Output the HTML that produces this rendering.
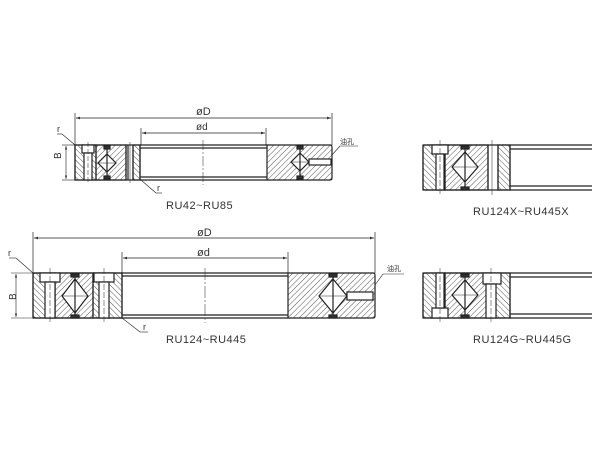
<!DOCTYPE html>
<html><head><meta charset="utf-8"><style>
html,body{margin:0;padding:0;background:#fff;}
svg{display:block;}
text{font-family:"Liberation Sans","Noto Sans CJK SC",sans-serif;fill:#333;}
</style></head><body>
<svg width="600" height="450" viewBox="0 0 600 450" xmlns="http://www.w3.org/2000/svg">
<defs>
<pattern id="h1" width="4" height="4" patternUnits="userSpaceOnUse" patternTransform="rotate(45)">
<line x1="0" y1="0" x2="0" y2="4" stroke="#444" stroke-width="0.9"/></pattern>
<pattern id="h2" width="4" height="4" patternUnits="userSpaceOnUse" patternTransform="rotate(-45)">
<line x1="0" y1="0" x2="0" y2="4" stroke="#444" stroke-width="0.9"/></pattern>
<marker id="ar" markerWidth="6" markerHeight="4" refX="6" refY="2" orient="auto"><path d="M0,0 L6,2 L0,4 z" fill="#333"/></marker>
<marker id="al" markerWidth="6" markerHeight="4" refX="0" refY="2" orient="auto"><path d="M6,0 L0,2 L6,4 z" fill="#333"/></marker>
</defs>
<g stroke="#222" stroke-width="1.2" fill="none">

<!-- ===== TOP: RU42~RU85 ===== -->
<line x1="75" y1="113" x2="75" y2="145" stroke-width="0.7"/>
<line x1="332" y1="113" x2="332" y2="145" stroke-width="0.7"/>
<line x1="76" y1="118" x2="331" y2="118" stroke-width="0.7" marker-start="url(#al)" marker-end="url(#ar)"/>
<line x1="141" y1="128" x2="141" y2="145" stroke-width="0.7"/>
<line x1="266" y1="128" x2="266" y2="145" stroke-width="0.7"/>
<line x1="142" y1="133" x2="265" y2="133" stroke-width="0.7" marker-start="url(#al)" marker-end="url(#ar)"/>
<rect x="75" y="145" width="21" height="35" fill="url(#h2)"/>
<rect x="96" y="145" width="30" height="35" fill="url(#h1)"/>
<rect x="133" y="145" width="7" height="35" fill="url(#h2)"/>
<rect x="75" y="145" width="65" height="35"/>
<rect x="82" y="145" width="12" height="8" fill="#fff"/>
<rect x="84" y="153" width="8" height="27" fill="#fff"/>
<line x1="88" y1="142" x2="88" y2="183" stroke-width="0.5" stroke-dasharray="5,2"/>
<line x1="126" y1="145" x2="126" y2="180"/><line x1="128" y1="145" x2="128" y2="180"/>
<line x1="130" y1="142" x2="130" y2="183" stroke-width="0.5"/>
<line x1="133" y1="145" x2="133" y2="180"/>
<path d="M107,154 L116,163 L107,172 L98,163 Z" fill="#fff"/>
<line x1="107" y1="148" x2="107" y2="178"/><line x1="98" y1="163" x2="116" y2="163" stroke-width="0.5"/>
<rect x="104" y="146" width="6" height="3" fill="#333"/><rect x="104" y="176" width="6" height="3" fill="#333"/>
<line x1="140" y1="145" x2="267" y2="145"/><line x1="140" y1="148" x2="267" y2="148"/>
<line x1="140" y1="180" x2="267" y2="180"/><line x1="140" y1="177" x2="267" y2="177"/>
<line x1="203" y1="140" x2="203" y2="185" stroke-width="0.5" stroke-dasharray="10,2,2,2"/>
<path d="M267,145 H330 Q332,145 332,147 V178 Q332,180 330,180 H267 Z" fill="url(#h1)"/>
<path d="M300,153 L309,162 L300,171 L291,162 Z" fill="#fff"/>
<line x1="300" y1="148" x2="300" y2="178"/><line x1="291" y1="162" x2="309" y2="162" stroke-width="0.5"/>
<rect x="297" y="146" width="6" height="3" fill="#333"/><rect x="297" y="176" width="6" height="3" fill="#333"/>
<rect x="309" y="159" width="22" height="6" fill="#fff"/>
<line x1="332" y1="155" x2="340" y2="146" stroke-width="0.6"/><line x1="340" y1="146" x2="358" y2="146" stroke-width="0.6"/>
<line x1="62" y1="145" x2="75" y2="145" stroke-width="0.6"/><line x1="62" y1="180" x2="75" y2="180" stroke-width="0.6"/>
<line x1="66" y1="146" x2="66" y2="179" stroke-width="0.6" marker-start="url(#al)" marker-end="url(#ar)"/>
<line x1="62" y1="134" x2="75" y2="145" stroke-width="0.6"/><line x1="57" y1="134" x2="62" y2="134" stroke-width="0.6"/>
<line x1="141" y1="180" x2="156" y2="193" stroke-width="0.6"/><line x1="156" y1="193" x2="162" y2="193" stroke-width="0.6"/>

<!-- ===== BOTTOM: RU124~RU445 ===== -->
<line x1="33" y1="232" x2="33" y2="273" stroke-width="0.7"/>
<line x1="375" y1="232" x2="375" y2="273" stroke-width="0.7"/>
<line x1="34" y1="238" x2="374" y2="238" stroke-width="0.7" marker-start="url(#al)" marker-end="url(#ar)"/>
<line x1="122" y1="252" x2="122" y2="273" stroke-width="0.7"/>
<line x1="288" y1="252" x2="288" y2="273" stroke-width="0.7"/>
<line x1="123" y1="258" x2="287" y2="258" stroke-width="0.7" marker-start="url(#al)" marker-end="url(#ar)"/>
<rect x="33" y="273" width="22" height="45" fill="url(#h2)"/>
<rect x="55" y="273" width="38" height="45" fill="url(#h1)"/>
<rect x="93" y="273" width="29" height="45" fill="url(#h2)"/>
<path d="M35,273 H122 V318 H35 Q33,318 33,316 V275 Q33,273 35,273 Z"/>
<rect x="40" y="273" width="20" height="9" fill="#fff"/><rect x="45" y="282" width="10" height="36" fill="#fff"/>
<rect x="94" y="273" width="20" height="9" fill="#fff"/><rect x="99" y="282" width="10" height="36" fill="#fff"/>
<line x1="50" y1="268" x2="50" y2="323" stroke-width="0.5" stroke-dasharray="6,2"/>
<line x1="104" y1="268" x2="104" y2="323" stroke-width="0.5" stroke-dasharray="6,2"/>
<path d="M75,279 L88,296 L75,313 L62,296 Z" fill="#fff"/>
<line x1="75" y1="276" x2="75" y2="316"/><line x1="62" y1="296" x2="88" y2="296" stroke-width="0.5"/>
<rect x="71" y="274" width="8" height="3" fill="#333"/><rect x="71" y="315" width="8" height="3" fill="#333"/>
<line x1="122" y1="273" x2="288" y2="273"/><line x1="122" y1="276" x2="288" y2="276"/>
<line x1="122" y1="318" x2="288" y2="318"/><line x1="122" y1="315" x2="288" y2="315"/>
<line x1="205" y1="268" x2="205" y2="323" stroke-width="0.5" stroke-dasharray="12,2,2,2"/>
<path d="M288,273 H373 Q375,273 375,275 V316 Q375,318 373,318 H288 Z" fill="url(#h1)"/>
<path d="M333,279 L347,296 L333,313 L319,296 Z" fill="#fff"/>
<line x1="333" y1="276" x2="333" y2="316"/><line x1="319" y1="296" x2="347" y2="296" stroke-width="0.5"/>
<rect x="329" y="274" width="8" height="3" fill="#333"/><rect x="329" y="315" width="8" height="3" fill="#333"/>
<rect x="347" y="292" width="26" height="8" fill="#fff"/>
<line x1="375" y1="285" x2="383" y2="274" stroke-width="0.6"/><line x1="383" y1="274" x2="404" y2="274" stroke-width="0.6"/>
<line x1="11" y1="273" x2="33" y2="273" stroke-width="0.6"/><line x1="11" y1="318" x2="33" y2="318" stroke-width="0.6"/>
<line x1="16" y1="274" x2="16" y2="317" stroke-width="0.6" marker-start="url(#al)" marker-end="url(#ar)"/>
<line x1="16" y1="258" x2="33" y2="273" stroke-width="0.6"/><line x1="9" y1="258" x2="16" y2="258" stroke-width="0.6"/>
<line x1="122" y1="318" x2="140" y2="332" stroke-width="0.6"/><line x1="140" y1="332" x2="148" y2="332" stroke-width="0.6"/>

<!-- ===== RIGHT TOP: X ===== -->
<rect x="423" y="145" width="22" height="45" fill="url(#h2)"/>
<rect x="445" y="145" width="43" height="45" fill="url(#h1)"/>
<rect x="498" y="145" width="12" height="45" fill="url(#h2)"/>
<path d="M425,145 H510 V190 H425 Q423,190 423,188 V147 Q423,145 425,145 Z"/>
<rect x="432" y="145" width="16" height="9" fill="#fff"/><rect x="436" y="154" width="8" height="36" fill="#fff"/>
<line x1="440" y1="140" x2="440" y2="195" stroke-width="0.5" stroke-dasharray="6,2"/>
<line x1="488" y1="145" x2="488" y2="190"/><line x1="492" y1="140" x2="492" y2="195" stroke-width="0.5"/><line x1="498" y1="145" x2="498" y2="190"/>
<path d="M465,152 L478,167 L465,182 L452,167 Z" fill="#fff"/>
<line x1="465" y1="148" x2="465" y2="188"/><line x1="452" y1="167" x2="478" y2="167" stroke-width="0.5"/>
<rect x="461" y="146" width="8" height="3" fill="#333"/><rect x="461" y="187" width="8" height="3" fill="#333"/>
<line x1="510" y1="145" x2="592" y2="145"/><line x1="510" y1="149" x2="592" y2="149"/>
<line x1="510" y1="190" x2="592" y2="190"/><line x1="510" y1="186" x2="592" y2="186"/>

<!-- ===== RIGHT BOTTOM: G ===== -->
<rect x="423" y="273" width="22" height="45" fill="url(#h2)"/>
<rect x="445" y="273" width="43" height="45" fill="url(#h1)"/>
<rect x="488" y="273" width="22" height="45" fill="url(#h2)"/>
<path d="M425,273 H510 V318 H425 Q423,318 423,316 V275 Q423,273 425,273 Z"/>
<rect x="432" y="308" width="16" height="10" fill="#fff"/><rect x="436" y="273" width="8" height="35" fill="#fff"/>
<rect x="483" y="273" width="18" height="11" fill="#fff"/><rect x="486" y="284" width="10" height="34" fill="#fff"/>
<line x1="440" y1="268" x2="440" y2="323" stroke-width="0.5" stroke-dasharray="6,2"/>
<line x1="491" y1="268" x2="491" y2="323" stroke-width="0.5" stroke-dasharray="6,2"/>
<path d="M465,280 L478,295 L465,310 L452,295 Z" fill="#fff"/>
<line x1="465" y1="276" x2="465" y2="316"/><line x1="452" y1="295" x2="478" y2="295" stroke-width="0.5"/>
<rect x="461" y="274" width="8" height="3" fill="#333"/><rect x="461" y="315" width="8" height="3" fill="#333"/>
<line x1="510" y1="273" x2="592" y2="273"/><line x1="510" y1="277" x2="592" y2="277"/>
<line x1="510" y1="318" x2="592" y2="318"/><line x1="510" y1="314" x2="592" y2="314"/>
</g>

<g font-size="11">
<text x="196" y="115">øD</text>
<text x="196" y="130" font-size="10">ød</text>
<text x="166" y="209" font-size="11" letter-spacing="0.5">RU42~RU85</text>
<text x="340" y="144" font-size="7">油孔</text>
<text x="62" y="166" font-size="10" transform="rotate(-90 58 163)">B</text>
<text x="57" y="132" font-size="9">r</text>
<text x="157" y="191" font-size="9">r</text>
<text x="197" y="236">øD</text>
<text x="197" y="256">ød</text>
<text x="166" y="343" letter-spacing="0.5">RU124~RU445</text>
<text x="387" y="271" font-size="7">油孔</text>
<text x="8" y="300" font-size="10" transform="rotate(-90 12 296)">B</text>
<text x="8" y="256" font-size="9">r</text>
<text x="143" y="330" font-size="9">r</text>
<text x="473" y="215" letter-spacing="0.5">RU124X~RU445X</text>
<text x="473" y="343" letter-spacing="0.5">RU124G~RU445G</text>
</g>
</svg>
</body></html>
